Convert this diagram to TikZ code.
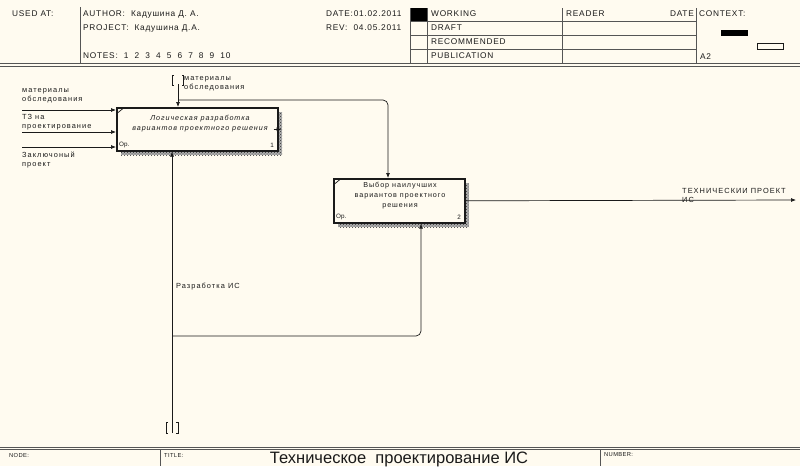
\documentclass[tikz,border=0pt]{standalone}
\usepackage{fontspec}
\setmainfont{Liberation Sans}
\usetikzlibrary{arrows.meta,patterns}
\definecolor{bg}{HTML}{FFFBF0}
\definecolor{ink}{HTML}{1A1A1A}
\definecolor{rule}{HTML}{555555}
\begin{document}
\begin{tikzpicture}[x=1pt,y=-1pt,
  hdr/.style={font=\fontsize{8.3}{9}\selectfont\addfontfeature{LetterSpace=9}, anchor=west, inner sep=0pt, text=ink},
  tiny/.style={font=\fontsize{5.8}{6}\selectfont\addfontfeature{LetterSpace=6}, anchor=west, inner sep=0pt, text=ink},
  lbl/.style={font=\fontsize{7.4}{9}\selectfont\addfontfeature{LetterSpace=14}, align=left, anchor=west, inner sep=0pt, text=ink},
  boxtxt/.style={font=\fontsize{7.2}{10}\selectfont\addfontfeature{LetterSpace=13}, align=center, inner sep=0pt, text=ink},
  fn/.style={draw=ink, line width=1.6pt, fill=bg, anchor=north west, inner sep=0pt},
  shadow/.style={fill=gray!65, postaction={pattern=crosshatch dots, pattern color=gray!40!black}},
  arr/.style={draw=ink, line width=0.7pt, -{Latex[length=5pt,width=4pt]}},
  ln/.style={draw=ink, line width=0.7pt},
  hl/.style={draw=rule, line width=0.9pt}]
\fill[bg] (0,0) rectangle (800,466);
\useasboundingbox (0,0) rectangle (800,466);

% ---------- header ----------
\node[hdr] (usedat) at (12,14) {USED AT:};
\node[hdr] (author) at (83,14) {AUTHOR:\ \ Кадушина Д. А.};
\node[hdr] (project) at (83,28) {PROJECT:\ \ Кадушина Д.А.};
\node[hdr] (notes) at (83,56) {NOTES:\ \ 1\ \ 2\ \ 3\ \ 4\ \ 5\ \ 6\ \ 7\ \ 8\ \ 9\ \ 10};
\node[hdr] (date) at (326,14) {DATE:01.02.2011};
\node[hdr] (rev) at (326,28) {REV:\ \ 04.05.2011};
\fill[bg] (410,7) rectangle (427,63);
\fill[black] (410,8) rectangle (427,21.5);
\node[hdr] (working) at (431,14) {WORKING};
\node[hdr] (draft) at (431,28) {DRAFT};
\node[hdr] (recom) at (431,42) {RECOMMENDED};
\node[hdr] (publ) at (431,56) {PUBLICATION};
\node[hdr] (reader) at (566,14) {READER};
\node[hdr, anchor=east] (rdate) at (694,14) {DATE};
\node[hdr] (context) at (699,14) {CONTEXT:};
\node[hdr] (a2) at (700,57) {A2};
\fill[black] (721,30) rectangle (748,36);
\draw[ink, line width=0.7pt] (757,43) rectangle (783,49);
\draw[hl] (80,7) -- (80,63);
\draw[hl] (410,8) -- (410,63);
\draw[hl] (427,8) -- (427,63);
\draw[hl] (562,8) -- (562,63);
\draw[hl] (696,8) -- (696,63);
\draw[hl] (410,21.5) -- (696,21.5);
\draw[hl] (410,35.5) -- (696,35.5);
\draw[hl] (410,49.5) -- (696,49.5);
\draw[hl] (0,63.5) -- (800,63.5);
\draw[hl] (0,66) -- (800,66);

% ---------- footer ----------
\draw[hl] (0,447.5) -- (800,447.5);
\draw[hl] (0,449.8) -- (800,449.8);
\draw[hl] (160,449.8) -- (160,466);
\draw[hl] (600,449.8) -- (600,466);
\node[tiny] (nodel) at (9,455) {NODE:};
\node[tiny] (titlel) at (164,455) {TITLE:};
\node[tiny] (numberl) at (604,455) {NUMBER:};
\node[font=\fontsize{16.5}{17}\selectfont, inner sep=0pt, text=ink] (title) at (399,459.5) {Техническое\ \ проектирование ИС};

% ---------- boxes ----------
\fill[shadow] (121,112) rectangle (282,155);
\node[fn, minimum width=161pt, minimum height=43pt] (b1) at (116,107) {};
\node[boxtxt] (b1t) at (200,124) {\itshape Логическая разработка\\\itshape вариантов проектного решения};
\node[tiny, font=\fontsize{6.3}{7}\selectfont] (b1op) at (119,145) {Op.};
\node[tiny, font=\fontsize{6.3}{7}\selectfont, anchor=east] (b1n) at (274,145) {1};
\draw[ln] (117.5,113) -- (123,108.5);

\fill[shadow] (338,183) rectangle (469,227);
\node[fn, minimum width=131pt, minimum height=44pt] (b2) at (333,178) {};
\node[boxtxt] (b2t) at (400,196) {Выбор наилучших\\вариантов проектного\\решения};
\node[tiny, font=\fontsize{6.3}{7}\selectfont] (b2op) at (336,217) {Op.};
\node[tiny, font=\fontsize{6.3}{7}\selectfont, anchor=east] (b2n) at (461,217) {2};
\draw[ln] (334.5,184) -- (340,179.5);

% ---------- inputs ----------
\coordinate (i1) at (22,110);
\coordinate (i2) at (22,132);
\coordinate (i3) at (22,147);
\draw[arr] (i1) -- (b1.west |- i1);
\draw[arr] (i2) -- (b1.west |- i2);
\draw[arr] (i3) -- (b1.west |- i3);
\node[lbl] (li1) at (22,96) {материалы\\обследования};
\node[lbl] (li2) at (22,122) {ТЗ на\\проектирование};
\node[lbl] (li3) at (22,160) {Заключоный\\проект};

% ---------- control ----------
\coordinate (c1) at (178,84);
\coordinate (cb) at (178,100);
\coordinate (c2x) at (388,0);
\draw[arr] (c1) -- (b1.north -| c1);
\draw[arr, rounded corners=5pt] (cb) -| (c2x |- b2.north);
\draw[ln] (174,75) -- (172.5,75) -- (172.5,85) -- (174,85);
\draw[ln] (182,75) -- (183.5,75) -- (183.5,85) -- (182,85);
\node[lbl] (lc1) at (184,84) {материалы\\обследования};

% ---------- mechanism ----------
\coordinate (m1) at (172,433);
\coordinate (mb) at (172,336);
\coordinate (m2x) at (421,0);
\draw[arr] (m1) -- (m1 |- b1.south);
\draw[arr, rounded corners=5pt] (mb) -| (m2x |- b2.south);
\draw[ln] (168,422) -- (166,422) -- (166,433) -- (168,433);
\draw[ln] (176,422) -- (178,422) -- (178,433) -- (176,433);
\node[lbl] (lm1) at (176,287) {Разработка ИС};

% ---------- outputs ----------
\coordinate (o1) at (796,200);
\draw[arr] (b2.east) -- (o1);
\node[lbl] (lo1) at (682,195) {ТЕХНИЧЕСКИИ ПРОЕКТ\\ИС};
\draw[arr] ([xshift=-5pt]b1.east) -- ([xshift=3pt]b1.east);
\end{tikzpicture}
\end{document}
